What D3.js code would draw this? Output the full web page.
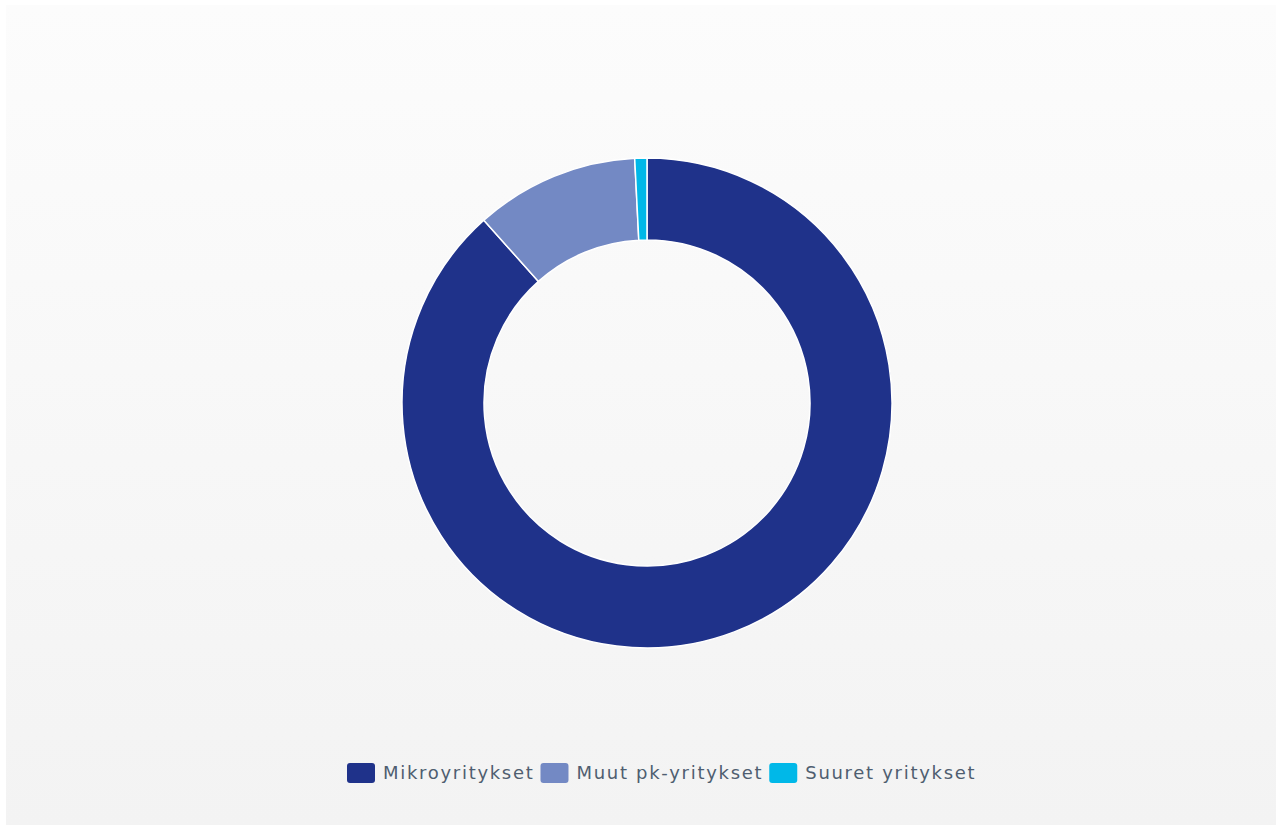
<!DOCTYPE html>
<html><head><meta charset="utf-8">
<script src="https://cdn.jsdelivr.net/npm/d3@7"></script>
<style>html,body{margin:0;padding:0;background:#fff;}svg{display:block;}</style>
</head><body>
<svg id="chart" width="1277" height="825"></svg>
<script>
const categories = ["Mikroyritykset", "Muut pk-yritykset", "Suuret yritykset"];
const values = [88.4, 10.8, 0.8];
const colors = ["#1f328a", "#7389c4", "#00b8e8"];

const svg = d3.select("#chart");
const defs = svg.append("defs");
const grad = defs.append("linearGradient").attr("id", "bg").attr("x1", 0).attr("y1", 0).attr("x2", 0).attr("y2", 1);
grad.append("stop").attr("offset", "0%").attr("stop-color", "#fcfcfc");
grad.append("stop").attr("offset", "100%").attr("stop-color", "#f3f3f3");
svg.append("rect").attr("x", 6).attr("y", 5).attr("width", 1270).attr("height", 820).attr("fill", "url(#bg)");

const cx = 647, cy = 403, outerR = 245, innerR = 163;
const pie = d3.pie().sort(null).value(d => d.v);
const arc = d3.arc().innerRadius(innerR).outerRadius(outerR);
const data = categories.map((c, i) => ({ c, v: values[i], col: colors[i] }));

svg.append("g").attr("transform", `translate(${cx},${cy})`)
  .selectAll("path").data(pie(data)).join("path")
  .attr("d", arc)
  .attr("fill", d => d.data.col)
  .attr("stroke", "#ffffff")
  .attr("stroke-width", 1.5)
  .attr("stroke-linejoin", "round");

// legend
const legend = svg.append("g").attr("font-family", "'DejaVu Sans', sans-serif").attr("font-size", 18).attr("letter-spacing", "1.7px");
const ly = 773;
let x = 347;
data.forEach(d => {
  legend.append("rect").attr("x", x).attr("y", ly - 10).attr("width", 28).attr("height", 20).attr("rx", 3).attr("fill", d.col);
  const t = legend.append("text").attr("x", x + 36).attr("y", ly).attr("dy", "0.35em").attr("fill", "#4f5e70").text(d.c);
  const w = t.node().getComputedTextLength();
  x = x + 36 + w + 6;
});
</script>
</body></html>
